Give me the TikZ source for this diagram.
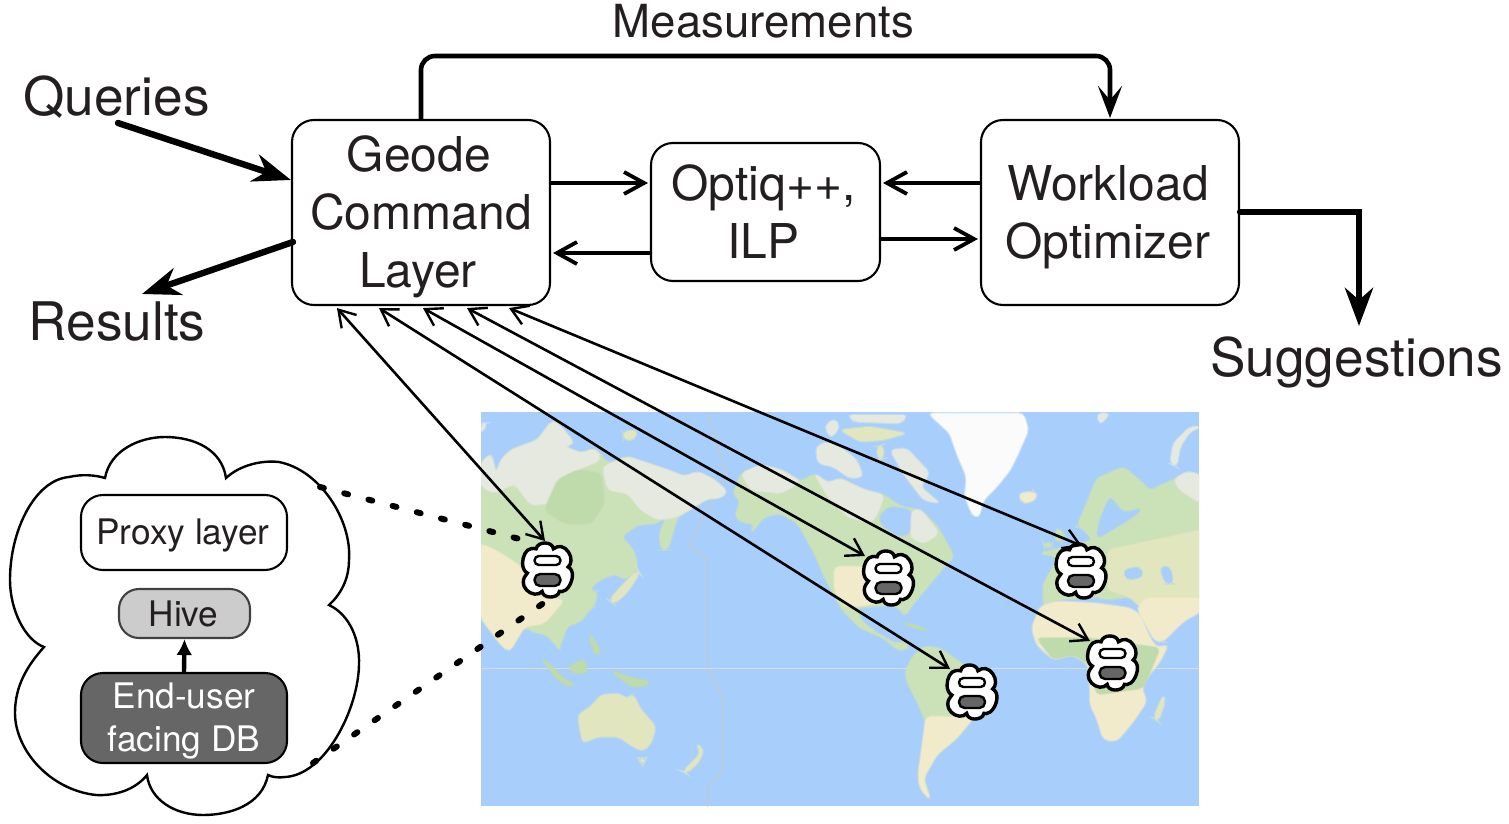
\documentclass[tikz,border=0pt]{standalone}
\usepackage{fontspec}
\setmainfont{TeX Gyre Heros}
\usetikzlibrary{arrows.meta,calc}
\definecolor{ink}{HTML}{231F20}
\definecolor{ocean}{HTML}{A8CFFB}
\definecolor{landg}{HTML}{CBE1B8}
\definecolor{landd}{HTML}{BFDAAB}
\definecolor{landt}{HTML}{F1EBCB}
\definecolor{landm}{HTML}{E2E6BE}
\definecolor{tundra}{HTML}{E6E9E0}
\definecolor{ice}{HTML}{FAFBFA}
\newcommand{\cloudpath}{(105,478) .. controls (110,450) and (140,437) .. (165,437) .. controls (195,437) and (222,450) .. (226,478)
 .. controls (240,465) and (262,460) .. (279,462) .. controls (320,470) and (352,520) .. (349,560) .. controls (349,580) and (340,595) .. (329,605)
 .. controls (350,615) and (360,640) .. (359,665) .. controls (358,710) and (325,775) .. (285,777) .. controls (278,778) and (272,777) .. (268,775)
 .. controls (262,805) and (230,815) .. (203,815) .. controls (175,815) and (150,800) .. (147,775)
 .. controls (135,790) and (115,796) .. (96,795) .. controls (50,790) and (15,750) .. (15,713) .. controls (15,685) and (28,665) .. (44,647)
 .. controls (25,640) and (10,610) .. (10,580) .. controls (10,530) and (35,480) .. (69,477) .. controls (82,474) and (95,475) .. (105,478) -- cycle}
\newcommand{\lf}{\hspace*{2pt}\\}
\tikzset{
 x=0.5pt,y=-0.5pt,
 mainbox/.style={draw=black,line width=1.05pt,fill=white,rounded corners=11pt,inner sep=0pt,align=center,text=ink,font=\fontsize{24}{29}\selectfont},
 smallbox/.style={draw=black,line width=1.05pt,rounded corners=11pt,inner sep=0pt,align=center,font=\fontsize{17.6}{21.5}\selectfont},
 biglabel/.style={text=ink,inner sep=0pt,font=\fontsize{26.6}{30}\selectfont},
 medlabel/.style={text=ink,inner sep=0pt,font=\fontsize{22.8}{27}\selectfont},
 heavy/.style={line width=3.2pt,line cap=round,-{Stealth[length=19pt,width=14pt,inset=6pt]}},
 medium/.style={line width=2.2pt,line cap=round,shorten >=1pt,-{Straight Barb[length=10pt,width=11pt,line width=1.9pt]}},
 thinlink/.style={line width=1.3pt,{Straight Barb[length=8pt,width=10pt,line width=1.2pt]}-{Straight Barb[length=8pt,width=10pt,line width=1.2pt]}},
 dots/.style={line width=3pt,line cap=round,dash pattern=on 2pt off 10.5pt},
 land/.style={fill=#1,draw=#1,draw opacity=.45,line width=1.2pt,rounded corners=2.5pt},
 minicloud/.pic={
  \begin{scope}[scale=0.143,shift={(-184.5,-626)}]
   \draw[line width=1.7pt,fill=white] \cloudpath;
  \end{scope}
  \draw[line width=1.2pt,fill=white,rounded corners=2.2pt] (-13,-14) rectangle (13,-5);
  \draw[line width=1.2pt,fill=black!60,rounded corners=2.8pt] (-13,4) rectangle (13,16);
 },
}
\begin{document}
\begin{tikzpicture}
\useasboundingbox (0,0) rectangle (1509,824);
% map
\begin{scope}
\clip (481,412) rectangle (1199,806);
\fill[ocean] (481,412) rectangle (1199,806);
\begin{scope}[shift={(481,410)},x=0.16667pt,y=-0.16667pt]
 \draw[black!22,line width=0.5pt] (680,10) -- (735,190) -- (625,405) -- (680,450) -- (680,774) -- (725,860) -- (725,1080) -- (680,1130) -- (680,1190);
 \draw[black!14,line width=0.5pt] (0,774) -- (2160,774);
 % Asia, left part
 \path[land=landg] (0,160) -- (30,130) -- (45,190) -- (60,150) -- (90,120) -- (170,90) -- (215,30) -- (240,50) -- (280,100) -- (250,110) -- (300,130) -- (345,115) -- (380,160) -- (440,140) -- (500,160) -- (560,180) -- (610,200) -- (650,185) -- (700,210) -- (740,245) -- (715,265) -- (680,265) -- (640,290) -- (590,320) -- (560,420) -- (540,420) -- (535,370) -- (560,310) -- (530,340) -- (470,345) -- (420,380) -- (450,410) -- (465,440) -- (470,480) -- (430,510) -- (400,490) -- (340,520) -- (325,545) -- (350,540) -- (340,590) -- (330,594) -- (300,634) -- (255,650) -- (250,680) -- (235,704) -- (238,724) -- (215,694) -- (190,670) -- (165,670) -- (130,650) -- (85,725) -- (60,704) -- (30,664) -- (0,624) -- cycle;
 \path[land=tundra] (0,160) -- (30,130) -- (45,190) -- (60,150) -- (90,120) -- (170,90) -- (215,30) -- (240,50) -- (280,100) -- (250,110) -- (300,130) -- (345,115) -- (360,150) -- (300,175) -- (240,200) -- (225,280) -- (150,285) -- (100,220) -- (40,250) -- (0,230) -- cycle;
 \path[land=tundra] (365,170) -- (440,140) -- (500,160) -- (560,180) -- (610,200) -- (650,185) -- (700,210) -- (740,245) -- (715,265) -- (680,265) -- (640,290) -- (590,320) -- (530,330) -- (480,300) -- (440,250) -- (380,240) -- cycle;
 \path[land=landd] (230,210) -- (290,180) -- (360,190) -- (370,280) -- (330,340) -- (250,340) -- (190,300) -- cycle;
 \path[land=landt] (0,400) -- (60,430) -- (120,470) -- (170,560) -- (250,570) -- (190,640) -- (130,650) -- (85,725) -- (60,704) -- (30,664) -- (0,624) -- cycle;
 % Japan, islands, Australia, NZ
 \path[land=landm] (385,570) -- (420,530) -- (470,480) -- (476,490) -- (440,545) -- (400,582) -- cycle;
 \path[land=landd] (180,744) -- (215,770) -- (240,800) -- (285,825) -- (260,830) -- (225,805) -- cycle;
 \path[land=landd] (262,770) -- (310,745) -- (320,790) -- (275,790) -- cycle;
 \path[land=landd] (390,780) -- (440,800) -- (510,815) -- (490,830) -- (450,830) -- (410,800) -- cycle;
 \path[land=landd] (325,664) -- (340,694) -- (360,720) -- (345,740) -- (330,700) -- cycle;
 \path[land=landm] (290,915) -- (330,890) -- (360,855) -- (415,850) -- (440,870) -- (455,850) -- (480,900) -- (525,950) -- (510,1000) -- (485,1025) -- (440,1000) -- (415,980) -- (350,980) -- (305,1000) -- cycle;
 \path[land=landm] (472,1045) -- (495,1045) -- (485,1065) -- cycle;
 \path[land=landm] (605,1085) -- (640,1050) -- (660,1030) -- (645,1000) -- (670,1020) -- (650,1060) -- (615,1090) -- cycle;
 % North America
 \path[land=landg] (755,255) -- (780,190) -- (840,165) -- (900,180) -- (960,215) -- (1000,190) -- (1040,220) -- (1077,205) -- (1150,240) -- (1210,255) -- (1260,290) -- (1320,300) -- (1370,350) -- (1420,440) -- (1390,470) -- (1340,530) -- (1290,590) -- (1270,620) -- (1262,600) -- (1230,585) -- (1170,590) -- (1127,594) -- (1140,630) -- (1167,654) -- (1240,700) -- (1280,695) -- (1280,720) -- (1250,720) -- (1207,684) -- (1137,654) -- (1097,614) -- (1077,590) -- (1030,500) -- (1000,430) -- (950,340) -- (900,310) -- (850,320) -- (810,370) -- (820,340) -- (790,340) -- (760,320) -- (780,270) -- cycle;
 \path[land=tundra] (780,190) -- (840,165) -- (900,180) -- (960,215) -- (900,250) -- (810,240) -- cycle;
 \path[land=tundra] (1000,190) -- (1040,220) -- (1077,205) -- (1150,240) -- (1210,255) -- (1190,310) -- (1170,340) -- (1100,320) -- (1040,260) -- cycle;
 \path[land=landt] (1060,470) -- (1170,470) -- (1215,575) -- (1127,590) -- (1090,590) -- (1060,540) -- cycle;
 \path[land=ocean] (1192,320) -- (1227,290) -- (1292,300) -- (1287,370) -- (1257,380) -- (1207,350) -- cycle;
 \path[land=tundra] (1292,300) -- (1320,300) -- (1375,370) -- (1330,400) -- (1290,385) -- cycle;
 \path[land=tundra] (1005,110) -- (1040,95) -- (1077,110) -- (1127,150) -- (1147,200) -- (1107,205) -- (1057,170) -- (1010,160) -- cycle;
 \path[land=tundra] (1030,50) -- (1060,25) -- (1077,50) -- (1050,85) -- cycle;
 \path[land=landm] (1187,110) -- (1207,105) -- (1207,145) -- (1192,150) -- cycle;
 \path[land=tundra] (1227,120) -- (1277,115) -- (1347,190) -- (1317,230) -- (1377,280) -- (1327,270) -- (1267,190) -- cycle;
 \path[land=landm] (1077,60) -- (1167,50) -- (1277,70) -- (1207,90) -- (1137,95) -- cycle;
 \path[land=tundra] (1100,15) -- (1280,15) -- (1260,40) -- (1120,35) -- cycle;
 \path[land=landm] (425,65) -- (470,60) -- (460,90) -- (430,90) -- cycle;
 \path[land=tundra] (0,40) -- (20,40) -- (0,70) -- cycle;
 \path[land=landd] (1262,639) -- (1302,644) -- (1342,664) -- (1302,654) -- cycle;
 % Greenland, Iceland, polar bits
 \path[land=ice] (1342,10) -- (1627,10) -- (1642,60) -- (1607,140) -- (1587,180) -- (1547,230) -- (1507,270) -- (1492,325) -- (1472,310) -- (1452,260) -- (1457,200) -- (1427,130) -- (1407,70) -- cycle;
 \path[land=landt] (1612,250) -- (1657,245) -- (1672,260) -- (1642,280) -- (1622,275) -- cycle;
 \path[land=tundra] (1847,10) -- (1887,10) -- (1857,45) -- cycle;
 \path[land=tundra] (2067,160) -- (2077,100) -- (2127,50) -- (2160,50) -- (2127,65) -- (2097,110) -- (2087,170) -- cycle;
 % South America
 \path[land=landg] (1272,784) -- (1292,744) -- (1327,709) -- (1377,714) -- (1447,764) -- (1547,824) -- (1517,894) -- (1477,924) -- (1427,984) -- (1367,1034) -- (1327,1104) -- (1347,1169) -- (1317,1134) -- (1312,1094) -- (1337,944) -- (1317,894) -- (1277,814) -- cycle;
 \path[land=landt] (1335,920) -- (1400,920) -- (1477,924) -- (1427,984) -- (1367,1034) -- (1327,1104) -- (1347,1169) -- (1317,1134) -- (1312,1094) -- cycle;
 % Europe and Asia, right part
 \path[land=landg] (1787,350) -- (1817,280) -- (1847,205) -- (1927,170) -- (1992,225) -- (2007,245) -- (2027,230) -- (2077,210) -- (2117,185) -- (2160,195) -- (2160,600) -- (1977,590) -- (1947,560) -- (1877,570) -- (1847,560) -- (1727,570) -- (1687,590) -- (1687,520) -- (1717,470) -- (1727,440) -- (1677,430) -- (1797,400) -- (1837,390) -- (1797,350) -- cycle;
 \path[land=tundra] (2077,210) -- (2117,185) -- (2160,195) -- (2160,280) -- (2097,240) -- cycle;
 \path[land=landm] (1880,420) -- (2160,360) -- (2160,564) -- (1977,590) -- (1947,560) -- (1880,540) -- cycle;
 \path[land=ocean] (1847,385) -- (1907,350) -- (1957,320) -- (1982,295) -- (1927,310) -- (1887,260) -- (1857,330) -- cycle;
 \path[land=ocean] (1927,480) -- (1977,470) -- (1987,500) -- (1937,510) -- cycle;
 \path[land=ocean] (2037,470) -- (2067,470) -- (2077,520) -- (2052,520) -- cycle;
 \path[land=landg] (1727,350) -- (1757,380) -- (1747,392) -- (1722,395) -- cycle;
 \path[land=landg] (1687,398) -- (1717,398) -- (1707,412) -- (1690,412) -- cycle;
 % Africa and Arabia
 \path[land=landt] (1677,590) -- (1727,574) -- (1837,579) -- (1947,594) -- (1977,614) -- (2007,684) -- (2027,714) -- (2062,704) -- (2037,754) -- (1997,804) -- (1982,834) -- (1997,874) -- (1957,934) -- (1907,994) -- (1867,989) -- (1847,924) -- (1827,884) -- (1827,834) -- (1822,764) -- (1777,734) -- (1717,749) -- (1667,704) -- (1652,654) -- cycle;
 \path[land=landd] (1667,684) -- (1817,684) -- (2037,714) -- (1987,834) -- (1847,854) -- (1827,764) -- (1777,734) -- (1717,749) -- cycle;
 \path[land=landt] (1967,594) -- (1997,564) -- (2160,564) -- (2160,604) -- (2107,634) -- (2047,694) -- (2022,694) -- cycle;
 \path[land=landm] (2017,924) -- (2047,854) -- (2052,874) -- (2032,934) -- cycle;
\end{scope}
\end{scope}
% small clouds
\pic at (547.5,570) {minicloud};
\pic at (888.5,578) {minicloud};
\pic at (1081,571) {minicloud};
\pic at (1112.5,663) {minicloud};
\pic at (972,692) {minicloud};
% coordinates for cloud connections
\coordinate (t1) at (545,541);
\coordinate (t2) at (950,669);
\coordinate (t3) at (865,556);
\coordinate (t4) at (1090,641);
\coordinate (t5) at (1082,546);
\coordinate (dA) at (320,487);
\coordinate (dB) at (313,763);
\coordinate (mA) at (535,543);
\coordinate (mB) at (548,600);
% big cloud
\draw[line width=1.2pt,fill=white] \cloudpath;
% boxes
\node[mainbox,minimum width=129pt,minimum height=92.5pt] (geode) at (421,212.5) {\rule{0pt}{22.5pt}Geode\hspace*{2pt}\\Command\hspace*{4pt}\\Layer\hspace*{3pt}};
\node[mainbox,minimum width=114.5pt,minimum height=69pt] (optiq) at (765.5,212) {Optiq++,\lf ILP\hspace*{2pt}};
\node[mainbox,minimum width=129pt,minimum height=92.5pt] (work) at (1110,212.5) {\rule{0pt}{22.5pt}Workload\lf Optimizer\hspace*{2pt}};
\node[smallbox,fill=white,text=ink,minimum width=103pt,minimum height=37.5pt] (proxy) at (184,532.5) {\rule{0pt}{16pt}Proxy layer\hspace*{1pt}};
\node[smallbox,draw=black!75,fill=black!20,text=ink,rounded corners=10pt,minimum width=65.5pt,minimum height=24.5pt] (hive) at (184.5,613.5) {Hive\hspace*{1pt}};
\node[smallbox,fill=black!60,text=white,minimum width=103pt,minimum height=45pt] (db) at (184,718) {\rule{0pt}{15.7pt}End-user\\facing DB};
% labels
\node[medlabel] (meas) at (763.5,21.5) {Measurements};
\node[biglabel] (queries) at (116.5,97) {Queries};
\node[biglabel] (results) at (117,322) {Results};
\node[biglabel] (sugg) at (1356.5,362) {Suggestions};
% anchors on boxes
\coordinate (g1) at ($(geode.south west)+(46,2)$);
\coordinate (g2) at ($(geode.south west)+(88,2)$);
\coordinate (g3) at ($(geode.south west)+(132,2)$);
\coordinate (g4) at ($(geode.south west)+(176,2)$);
\coordinate (g5) at ($(geode.south west)+(218,2)$);
\coordinate (qs) at (118,123);
\coordinate (rs) at (293,242);
\coordinate (rt) at (142,294);
\coordinate (st) at (1359,326);
\coordinate (gtop) at (421,120);
\coordinate (wtop) at (1110,118);
% thin links
\draw[thinlink] (g1) -- (t1);
\draw[thinlink] (g2) -- (t2);
\draw[thinlink] (g3) -- (t3);
\draw[thinlink] (g4) -- (t4);
\draw[thinlink] (g5) -- (t5);
% dotted
\draw[dots] (dA) -- (mA);
\draw[dots] (dB) -- (mB);
% main arrows
\draw[line width=2.3pt,rounded corners=7pt,-{Stealth[length=16pt,width=12pt,inset=7pt]}] (gtop) -- (421,56) -- (1110,56) -- (wtop);
\draw[heavy] (qs) -- (geode.west |- 0,180);
\draw[heavy] (rs) -- (rt);
\draw[heavy] (work.east |- 0,212) -- (1359,212) -- (st);
\draw[medium] (geode.east |- 0,183) -- (optiq.west |- 0,183);
\draw[medium] (optiq.west |- 0,253) -- (geode.east |- 0,253);
\draw[medium] (work.west |- 0,183) -- (optiq.east |- 0,183);
\draw[medium] (optiq.east |- 0,239) -- (work.west |- 0,239);
\draw[line width=2.2pt,-{Latex[length=8pt,width=8pt]}] (db.north) -- (hive.south);
\end{tikzpicture}
\end{document}
